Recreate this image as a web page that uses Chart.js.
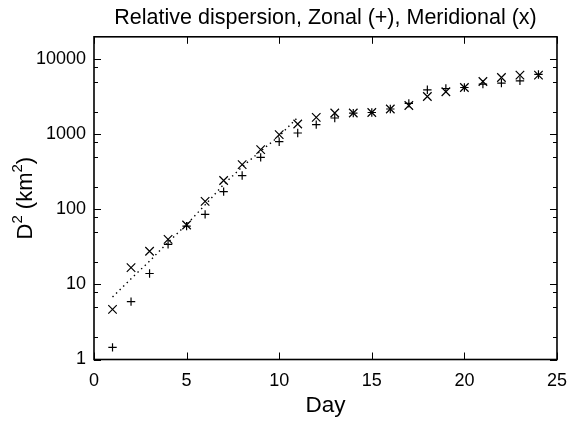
<!DOCTYPE html>
<html>
<head>
<meta charset="utf-8">
<script src="https://cdn.jsdelivr.net/npm/chart.js@4.4.1/dist/chart.umd.min.js"></script>
<style>
  html, body { margin: 0; padding: 0; background: #fff; }
  #wrap { width: 578px; height: 422px; }
</style>
</head>
<body>
<div id="wrap"><canvas id="dispersionChart"></canvas></div>
<script>
// Mean squared pair separation per day (km^2)
const days = [1, 2, 3, 4, 5, 6, 7, 8, 9, 10, 11, 12, 13, 14, 15, 16, 17, 18, 19, 20, 21, 22, 23, 24];
const zonal = [1.45, 5.9, 14.0, 34.3, 60, 86, 173, 283, 495, 800, 1045, 1350, 1655, 1920, 1960, 2180, 2590, 3930, 4090, 4220, 4680, 4830, 5180, 6300];
const meridional = [4.65, 16.8, 27.7, 39.9, 62, 128, 243, 396, 627, 993, 1377, 1686, 1928, 1930, 1960, 2180, 2430, 3200, 3700, 4220, 5070, 5730, 6170, 6170];

// early-time exponential fit
const fitDays = [1, 2, 3, 4, 5, 6, 7, 8, 9, 10, 11];
const fitValues = [6.8, 11.9, 20.5, 36.5, 63, 115, 215, 370, 600, 950, 1690];

const xTicks = [0, 5, 10, 15, 20, 25];
const yMajorTicks = [1, 10, 100, 1000, 10000];
const yMinorTicks = [2, 5, 8, 20, 50, 80, 200, 500, 800, 2000, 5000, 8000];

// y axis label, split into normal and superscript runs
const yLabelParts = [['D', false], ['2', true], [' (km', false], ['2', true], [')', false]];

const FONT = 'Liberation Sans, Arial, Helvetica, sans-serif';

const toPoints = (xs, ys) => xs.map((d, i) => ({ x: d, y: ys[i] }));

// gnuplot-style box with inward tick marks on all four sides
const frameTicks = {
  id: 'frameTicks',
  afterDraw(chart) {
    const { ctx, chartArea: a, scales: { x, y } } = chart;
    ctx.save();
    ctx.strokeStyle = '#000';
    ctx.lineWidth = 1;
    ctx.beginPath();
    xTicks.forEach(v => {
      const px = Math.round(x.getPixelForValue(v)) + 0.5;
      ctx.moveTo(px, a.bottom); ctx.lineTo(px, a.bottom - 7);
      ctx.moveTo(px, a.top); ctx.lineTo(px, a.top + 7);
    });
    yMajorTicks.forEach(v => {
      const py = Math.round(y.getPixelForValue(v)) + 0.5;
      ctx.moveTo(a.left, py); ctx.lineTo(a.left + 7, py);
      ctx.moveTo(a.right, py); ctx.lineTo(a.right - 7, py);
    });
    yMinorTicks.forEach(v => {
      const py = Math.round(y.getPixelForValue(v)) + 0.5;
      ctx.moveTo(a.left, py); ctx.lineTo(a.left + 4, py);
      ctx.moveTo(a.right, py); ctx.lineTo(a.right - 4, py);
    });
    ctx.stroke();
    ctx.lineWidth = 1.6;
    ctx.strokeRect(a.left, a.top, a.right - a.left, a.bottom - a.top);
    ctx.restore();
  }
};

// rotated y title with real superscripts
const yTitle = {
  id: 'yTitle',
  afterDraw(chart) {
    const { ctx, chartArea: a } = chart;
    const base = '22px ' + FONT;
    const sup = '15px ' + FONT;
    ctx.save();
    ctx.fillStyle = '#000';
    ctx.textBaseline = 'alphabetic';
    let total = 0;
    yLabelParts.forEach(([t, s]) => { ctx.font = s ? sup : base; total += ctx.measureText(t).width; });
    ctx.translate(31.5, (a.top + a.bottom) / 2);
    ctx.rotate(-Math.PI / 2);
    let u = -total / 2;
    yLabelParts.forEach(([t, s]) => {
      ctx.font = s ? sup : base;
      ctx.fillText(t, u, s ? -10 : 0);
      u += ctx.measureText(t).width;
    });
    ctx.restore();
  }
};

new Chart(document.getElementById('dispersionChart'), {
  type: 'scatter',
  data: {
    datasets: [
      {
        label: 'Fit',
        type: 'line',
        data: toPoints(fitDays, fitValues),
        borderColor: '#000',
        borderWidth: 1.4,
        borderDash: [1.4, 3.6],
        pointRadius: 0,
        fill: false,
        tension: 0
      },
      {
        label: 'Zonal',
        data: toPoints(days, zonal),
        pointStyle: 'cross',
        pointRadius: 4.2,
        borderColor: '#000',
        backgroundColor: '#000',
        pointBorderWidth: 1.2
      },
      {
        label: 'Meridional',
        data: toPoints(days, meridional),
        pointStyle: 'crossRot',
        pointRadius: 6,
        borderColor: '#000',
        backgroundColor: '#000',
        pointBorderWidth: 1.2
      }
    ]
  },
  options: {
    responsive: true,
    maintainAspectRatio: false,
    animation: false,
    events: [],
    layout: { padding: { left: 0, right: 11.3, top: 0, bottom: 0 } },
    plugins: {
      legend: { display: false },
      tooltip: { enabled: false },
      title: {
        display: true,
        fullSize: false,
        text: 'Relative dispersion, Zonal (+), Meridional (x)',
        color: '#000',
        font: { family: FONT, size: 21.5, weight: 'normal', lineHeight: 1.2 },
        padding: { top: 5, bottom: 6 }
      }
    },
    scales: {
      x: {
        type: 'linear',
        min: 0,
        max: 25,
        afterFit: s => { s.height = 62.5; },
        grid: { display: false, drawTicks: false },
        border: { display: false },
        ticks: { stepSize: 5, padding: 11, color: '#000', font: { family: FONT, size: 18 } },
        title: {
          display: true,
          text: 'Day',
          color: '#000',
          font: { family: FONT, size: 22.5, lineHeight: 1.2 },
          padding: { top: 0, bottom: 3 }
        }
      },
      y: {
        type: 'logarithmic',
        min: 1,
        max: 20000,
        afterFit: s => { s.width = 94; },
        afterBuildTicks: s => { s.ticks = yMajorTicks.map(v => ({ value: v })); },
        grid: { display: false, drawTicks: false },
        border: { display: false },
        ticks: {
          padding: 8,
          color: '#000',
          font: { family: FONT, size: 18 },
          callback: v => String(v)
        }
      }
    }
  },
  plugins: [frameTicks, yTitle]
});
</script>
</body>
</html>
